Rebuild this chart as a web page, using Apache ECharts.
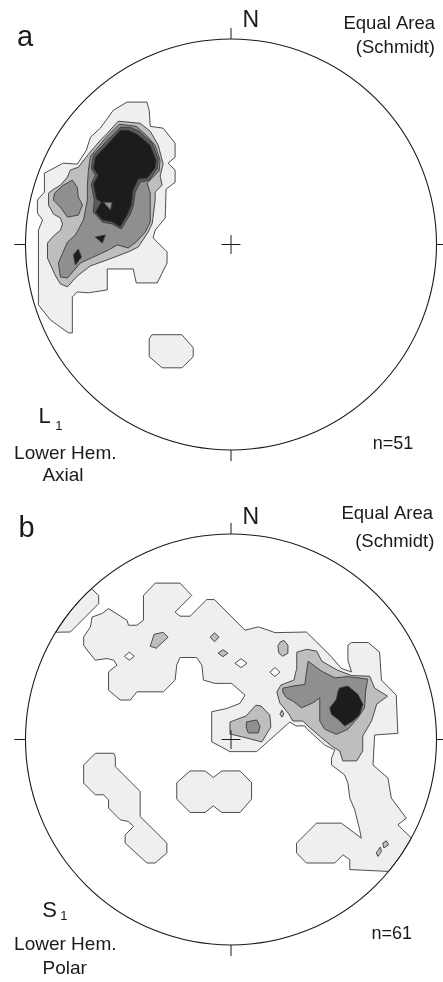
<!DOCTYPE html>
<html>
<head>
<meta charset="utf-8">
<script src="https://cdn.jsdelivr.net/npm/echarts@6/dist/echarts.min.js"></script>
<style>
  html, body { margin: 0; padding: 0; background: #ffffff; }
  #chart { width: 443px; height: 982px; }
</style>
</head>
<body>
<div id="chart"></div>
<script>
// Stereonet coordinates: x = east, y = north, primitive circle radius = 100.
const NET_RADIUS = 100;

// Labels
const panelLetters = ['a', 'b'];
const fabricSymbols = ['L', 'S'];
const fabricSubscripts = ['1', '1'];
const hemisphereLabel = 'Lower Hem.';
const plotTypes = ['Axial', 'Polar'];
const netLabels = ['Equal Area', '(Schmidt)'];
const northLabel = 'N';
const sampleCounts = [51, 61];

// ---- Panel a: L1 lineations, density contours (level 1 = lowest) ----
const aLevel1 = [
  [[-50.6,69.3],[-40.9,69.3],[-39.8,65.3],[-39.3,57.5],[-33.0,56.6],[-27.2,49.3],[-27.2,42.5],[-30.6,39.6],[-27.2,36.2],[-27.2,30.3],[-31.6,26.9],[-32.0,12.9],[-36.9,7.0],[-37.9,3.2],[-31.1,-3.6],[-31.1,-9.0],[-35.9,-18.7],[-46.1,-18.7],[-47.6,-11.9],[-60.2,-11.9],[-60.2,-22.1],[-69.4,-23.5],[-74.8,-23.1],[-77.2,-25.5],[-77.2,-43.0],[-79.1,-43.0],[-87.9,-36.7],[-93.7,-29.4],[-93.7,7.0],[-91.7,11.9],[-94.2,15.3],[-94.2,21.6],[-90.8,25.5],[-90.8,34.7],[-81.6,39.6],[-74.8,39.1],[-70.4,45.9],[-68.4,52.2],[-63.6,56.6],[-57.3,65.3]],
  [[-38.5,-43.9],[-23.9,-43.9],[-18.4,-50.2],[-18.4,-54.6],[-23.8,-60.0],[-33.5,-60.0],[-39.8,-54.6],[-39.8,-45.9]]
];
const aLevel2 = [
  [[-54.9,60.0],[-44.2,59.0],[-39.3,55.1],[-35.4,48.3],[-33.0,39.1],[-34.5,33.3],[-33.5,28.9],[-36.9,25.5],[-36.9,21.6],[-38.3,10.4],[-40.3,6.1],[-45.1,-1.2],[-50.0,-3.6],[-60.2,-7.5],[-68.4,-10.4],[-74.8,-15.3],[-79.6,-20.6],[-83.0,-19.2],[-85.4,-15.3],[-89.3,-6.6],[-89.3,0.7],[-86.4,4.1],[-83.0,7.0],[-82.0,10.0],[-83.0,12.9],[-86.4,14.8],[-88.8,19.2],[-88.8,25.0],[-86.9,26.5],[-83.0,28.9],[-79.6,32.8],[-78.2,36.2],[-74.3,37.6],[-69.4,43.9],[-63.6,50.7],[-60.2,54.1]]
];
const aLevel3 = [
  [[-54.4,58.5],[-46.1,57.5],[-41.3,53.2],[-36.9,48.3],[-34.5,41.0],[-35.0,35.7],[-40.8,29.9],[-39.3,25.0],[-39.3,10.9],[-41.7,6.1],[-46.1,1.2],[-50.0,-1.7],[-55.3,-0.2],[-59.7,-2.7],[-67.0,-6.1],[-73.3,-9.0],[-79.6,-16.3],[-83.0,-15.8],[-84.0,-9.0],[-79.6,1.2],[-75.7,4.6],[-71.8,11.9],[-69.9,21.6],[-69.9,28.4],[-69.4,36.2],[-68.4,43.0],[-60.7,52.2]],
  [[-85.9,25.0],[-81.6,28.9],[-77.2,31.3],[-74.8,27.9],[-74.3,23.1],[-72.3,19.2],[-74.3,14.3],[-79.6,13.3],[-83.0,18.2],[-86.4,21.6]]
];
const aLevel4 = [
  [[-67.0,43.4],[-59.7,51.2],[-53.9,57.0],[-49.0,57.0],[-44.7,55.1],[-38.3,49.3],[-35.4,41.5],[-35.9,36.7],[-39.8,31.3],[-44.2,30.3],[-46.6,25.5],[-47.6,18.7],[-49.0,14.8],[-53.4,7.5],[-57.8,10.0],[-62.6,10.9],[-67.0,15.8],[-66.5,21.6],[-68.0,29.4],[-66.0,33.7],[-68.0,37.1]]
];
const aLevel5 = [
  [[-66.0,42.5],[-59.2,49.8],[-53.9,55.6],[-50.0,55.6],[-45.6,53.6],[-39.3,48.3],[-36.4,41.0],[-36.9,37.1],[-40.8,32.3],[-45.1,31.8],[-47.6,26.5],[-48.5,19.2],[-50.0,15.3],[-53.9,8.5],[-57.8,10.9],[-62.6,11.9],[-66.0,15.8],[-63.1,20.6],[-65.5,22.1],[-67.0,29.4],[-64.6,33.7],[-67.0,37.1]],
  [[-66.0,3.6],[-61.2,4.6],[-62.6,0.7]],
  [[-76.7,-5.1],[-74.3,-2.2],[-72.8,-6.1],[-75.7,-10.0]]
];
// lower-density pocket inside the maximum
const aLevel3Inliers = [
  [[-62.1,20.6],[-57.8,20.6],[-58.7,16.7]]
];

// ---- Panel b: S1 poles, density contours ----
const bLevel1 = [
  [[-71.7,49.9],[-68.4,54.8],[-67.6,59.6],[-62.8,61.3],[-59.6,63.7],[-50.6,58.0],[-49.9,55.6],[-45.8,55.6],[-42.6,58.0],[-42.6,70.1],[-36.9,76.1],[-24.8,76.1],[-19.1,70.1],[-27.2,62.0],[-24.8,60.0],[-19.9,60.0],[-11.8,68.1],[-8.1,68.1],[6.8,53.2],[13.3,54.8],[18.1,53.2],[21.4,52.0],[36.7,52.3],[41.6,47.5],[48.9,40.2],[53.7,34.6],[58.6,32.9],[56.9,38.6],[56.9,45.9],[58.6,47.2],[66.7,47.2],[72.3,42.6],[73.2,28.9],[80.4,21.6],[81.2,3.0],[69.9,2.2],[69.1,-12.4],[76.4,-18.8],[78.0,-28.5],[85.3,-38.3],[81.2,-41.5],[87.8,-48.0],[82.8,-56.1],[76.7,-64.2],[57.8,-63.3],[57.8,-58.5],[54.5,-56.1],[50.5,-60.1],[36.7,-60.1],[31.9,-55.2],[31.9,-50.4],[41.6,-40.7],[53.7,-40.7],[63.4,-48.0],[62.6,-43.9],[60.2,-34.2],[57.8,-28.5],[56.9,-21.3],[55.3,-17.2],[48.9,-12.4],[48.9,-9.1],[50.5,-5.1],[45.6,-2.7],[36.7,5.4],[35.9,6.6],[31.6,6.6],[28.6,8.5],[12.5,-5.9],[-0.5,-5.9],[-9.4,-1.1],[-9.4,13.5],[-2.1,15.1],[4.4,17.6],[6.8,21.6],[0.3,27.3],[-7.8,27.3],[-13.4,28.9],[-14.2,36.2],[-16.7,39.9],[-24.8,39.9],[-26.4,36.2],[-27.2,28.9],[-32.9,23.2],[-45.8,23.2],[-49.0,19.2],[-53.9,19.2],[-59.6,24.0],[-59.6,32.9],[-55.5,36.2],[-57.1,38.6],[-60.3,39.4],[-66.0,38.6],[-69.3,42.6],[-71.7,45.9]],
  [[-67.9,73.4],[-64.4,70.1],[-64.4,66.1],[-78.2,52.3],[-85.3,52.2],[-81.5,57.9],[-77.4,63.3],[-72.8,68.6]],
  [[-66.0,-6.7],[-57.1,-6.7],[-56.3,-8.3],[-56.3,-13.2],[-44.2,-25.3],[-44.2,-37.5],[-31.2,-50.4],[-31.2,-55.2],[-36.9,-60.1],[-40.9,-60.1],[-51.5,-50.4],[-51.5,-46.4],[-47.4,-42.3],[-49.9,-39.9],[-53.9,-39.1],[-59.6,-33.4],[-59.6,-29.4],[-62.0,-26.9],[-66.0,-26.9],[-71.7,-21.3],[-71.7,-12.4]],
  [[-19.9,-15.3],[-12.6,-15.3],[-8.6,-18.5],[-4.5,-15.3],[4.4,-15.3],[10.0,-21.0],[10.0,-29.0],[4.4,-35.5],[-4.5,-35.5],[-8.6,-32.3],[-12.6,-35.5],[-19.9,-35.5],[-26.4,-29.0],[-26.4,-21.0]]
];
// empty pockets inside the lowest contour
const bHoles = [
  [[-51.9,40.5],[-49.5,42.5],[-47.1,40.5],[-49.5,38.6]],
  [[1.9,37.1],[4.9,39.3],[7.8,37.1],[4.9,35.0]],
  [[18.9,32.8],[21.4,35.0],[23.8,32.8],[21.4,30.6]]
];
const bLevel2 = [
  [[-39.3,45.4],[-37.4,51.2],[-33.0,52.2],[-30.6,49.8],[-36.4,44.4]],
  [[-10.2,49.8],[-8.0,51.9],[-5.8,49.8],[-8.0,47.6]],
  [[-6.3,42.0],[-3.9,43.7],[-1.5,42.0],[-3.9,40.3]],
  [[23.8,47.3],[25.7,48.3],[27.7,45.9],[27.7,42.0],[25.2,40.5],[23.3,42.0],[22.8,45.4]],
  [[24.8,14.3],[25.7,12.4],[24.8,10.9],[23.8,12.4]],
  [[70.7,-55.2],[72.7,-52.3],[73.2,-54.5],[71.5,-56.9]],
  [[73.9,-50.4],[75.6,-49.3],[76.7,-51.2],[74.4,-52.8]],
  [[-0.5,8.5],[4.4,10.4],[7.3,11.4],[12.1,16.7],[14.6,16.3],[18.9,11.9],[19.4,6.1],[15.0,-1.2],[7.8,0.7],[-0.5,2.7]],
  [[32.0,42.5],[36.9,43.9],[41.7,43.0],[44.2,38.1],[51.9,33.7],[58.7,31.1],[67.5,30.8],[69.9,25.0],[76.2,21.1],[70.9,17.2],[68.4,9.0],[64.1,1.7],[64.1,-5.6],[61.2,-10.4],[54.4,-10.4],[52.9,-5.6],[49.0,-3.2],[44.2,0.7],[37.4,6.6],[35.0,9.0],[30.1,9.0],[28.2,12.4],[23.8,17.7],[22.3,23.1],[24.3,26.5],[30.6,28.9],[32.0,34.7]]
];
const bLevel3 = [
  [[7.6,8.6],[12.5,9.5],[14.1,6.4],[13.3,3.2],[8.4,3.2],[7.4,6.1]],
  [[25.2,25.0],[30.2,26.0],[35.9,26.8],[37.5,38.1],[44.0,33.3],[50.5,30.0],[56.9,30.6],[66.5,29.4],[65.5,23.5],[65.0,15.4],[61.8,10.6],[56.9,5.0],[51.3,2.5],[45.6,5.0],[43.2,9.0],[43.2,20.3],[40.0,17.9],[34.3,15.4],[30.2,18.7],[27.0,20.3],[25.2,23.1]]
];
const bLevel5 = [
  [[52.9,25.1],[56.9,26.0],[61.8,21.9],[64.2,17.1],[62.6,12.2],[59.4,9.0],[55.3,6.6],[52.1,9.8],[48.9,12.2],[48.1,15.4],[51.3,19.5],[52.1,23.5]]
];

// ---- styling ----
const levelFill = ['#ffffff', '#efefef', '#bebebe', '#8f8f8f', '#5c5c5c', '#1c1c1c'];
const contourStroke = '#3a3a3a';
const inkColor = '#1a1a1a';
const FONT = '"Liberation Sans", Arial, Helvetica, sans-serif';
const TICK_LENGTH = 5.4;   // in net units, outside the primitive circle
const CROSS_HALF = 4.6;

function contourItems(layers) {
  const items = [];
  layers.forEach(([level, polys]) => polys.forEach(points => items.push({ level, points })));
  return items;
}

const panelAItems = contourItems([[1, aLevel1], [2, aLevel2], [3, aLevel3], [4, aLevel4], [5, aLevel5], [3, aLevel3Inliers]]);
const panelBItems = contourItems([[1, bLevel1], [0, bHoles], [2, bLevel2], [3, bLevel3], [5, bLevel5]]);

function contourSeries(items, gridIndex) {
  return {
    type: 'custom',
    coordinateSystem: 'cartesian2d',
    xAxisIndex: gridIndex,
    yAxisIndex: gridIndex,
    silent: true,
    clip: false,
    z: 2,
    data: items.map((it, i) => [i, it.level]),
    renderItem: (params, api) => {
      const it = items[params.dataIndex];
      return {
        type: 'polygon',
        shape: { points: it.points.map(p => api.coord(p)) },
        style: { fill: levelFill[it.level], stroke: contourStroke, lineWidth: 0.9, lineJoin: 'round' }
      };
    }
  };
}

function frameSeries(gridIndex) {
  return {
    type: 'custom',
    coordinateSystem: 'cartesian2d',
    xAxisIndex: gridIndex,
    yAxisIndex: gridIndex,
    silent: true,
    clip: false,
    z: 5,
    data: [[0, 0]],
    renderItem: (params, api) => {
      const c = api.coord([0, 0]);
      const r = api.coord([NET_RADIUS, 0])[0] - c[0];
      const seg = (a, b) => {
        const p = api.coord(a), q = api.coord(b);
        return { type: 'line', shape: { x1: p[0], y1: p[1], x2: q[0], y2: q[1] }, style: { stroke: inkColor, lineWidth: 1 } };
      };
      const R = NET_RADIUS, T = NET_RADIUS + TICK_LENGTH;
      return {
        type: 'group',
        children: [
          { type: 'circle', shape: { cx: c[0], cy: c[1], r: r }, style: { fill: 'none', stroke: inkColor, lineWidth: 1.1 } },
          seg([0, R], [0, T]),
          seg([0, -R], [0, -T]),
          seg([-R, 0], [-T, 0]),
          seg([R, 0], [T, 0]),
          seg([-CROSS_HALF, 0], [CROSS_HALF, 0]),
          seg([0, -CROSS_HALF], [0, CROSS_HALF])
        ]
      };
    }
  };
}

function label(text, x, y, size, align) {
  return {
    type: 'text', x: x, y: y, silent: true, z: 10,
    style: { text: text, fontSize: size, fontFamily: FONT, fill: inkColor, textAlign: align || 'left', textVerticalAlign: 'middle' }
  };
}

// label positions per panel (panel b is offset downward)
function panelLabels(i, dy, pos) {
  return [
    label(panelLetters[i], pos.letterX, 37.6 + dy, 29, 'left'),
    label(northLabel, 250.7, 20.2 + dy + pos.nShift, 23, 'center'),
    label(netLabels[0], pos.eqRight, 24.3 + dy + pos.eqShift, 18.5, 'right'),
    label(netLabels[1], pos.schRight, 47.6 + dy + pos.schShift, 18.5, 'right'),
    label(fabricSymbols[i], pos.symX, 417.2 + dy + pos.symShift, 22, 'left'),
    label(fabricSubscripts[i], pos.subX, 426 + dy + pos.subShift, 13, 'left'),
    label(hemisphereLabel, 65.3, 453.4 + dy + pos.hemShift, 19, 'center'),
    label(plotTypes[i], pos.typeX, 475.6 + dy + pos.typeShift, 19, 'center'),
    label('n=' + sampleCounts[i], pos.nX, 444.4 + dy + pos.cntShift, 18, 'center')
  ];
}

const chart = echarts.init(document.getElementById('chart'), null, { renderer: 'canvas' });

const hiddenAxis = (gridIndex) => ({
  type: 'value', gridIndex: gridIndex, min: -NET_RADIUS, max: NET_RADIUS, show: false
});

chart.setOption({
  animation: false,
  backgroundColor: '#ffffff',
  grid: [
    { left: 25.5, top: 39, width: 411, height: 411 },
    { left: 25.5, top: 534, width: 411, height: 411 }
  ],
  xAxis: [hiddenAxis(0), hiddenAxis(1)],
  yAxis: [hiddenAxis(0), hiddenAxis(1)],
  series: [
    contourSeries(panelAItems, 0),
    frameSeries(0),
    contourSeries(panelBItems, 1),
    frameSeries(1)
  ],
  graphic: {
    elements: [].concat(
      panelLabels(0, 0, { letterX: 17, eqRight: 435, schRight: 435, symX: 38.5, subX: 55.3, typeX: 63, nX: 393,
        nShift: 0, eqShift: 0, schShift: 0, symShift: 0, subShift: 0, hemShift: 0, typeShift: 0, cntShift: 0 }),
      panelLabels(1, 491, { letterX: 18.5, eqRight: 433, schRight: 434.3, symX: 42.3, subX: 60.3, typeX: 64.7, nX: 391.7,
        nShift: 6, eqShift: -1.7, schShift: 3.4, symShift: 2.7, subShift: -0.5, hemShift: 0.7, typeShift: 1.8, cntShift: -1.7 })
    )
  }
});
</script>
</body>
</html>
